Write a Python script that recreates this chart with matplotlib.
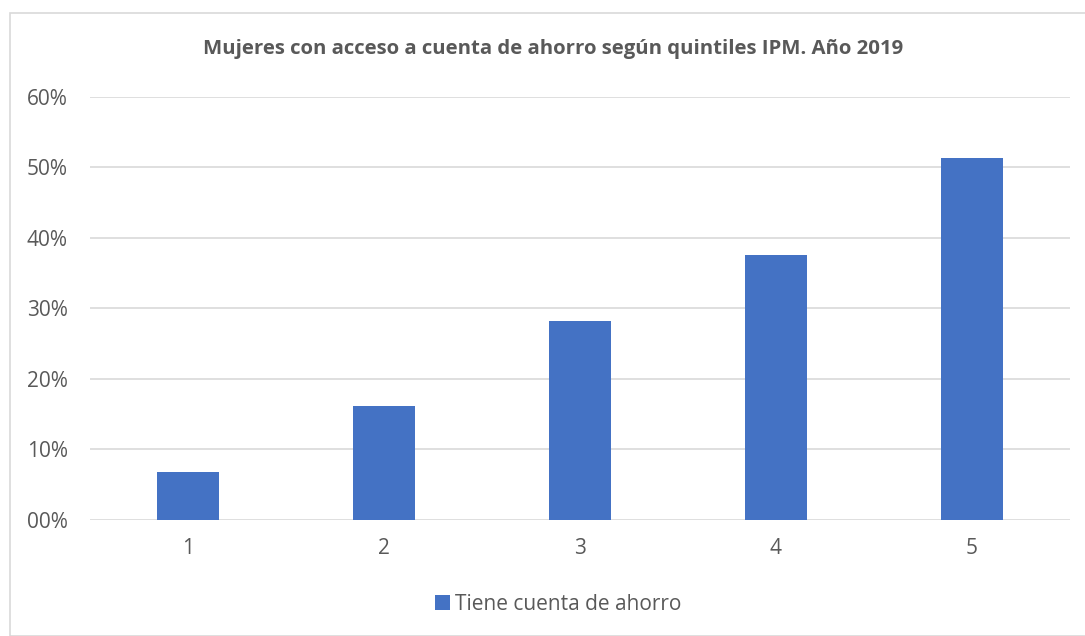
import numpy as np
import matplotlib
matplotlib.use("Agg")
import matplotlib.pyplot as plt
from matplotlib.patches import Rectangle
from matplotlib.ticker import FuncFormatter

quintiles = ["1", "2", "3", "4", "5"]
valores = [6.8, 16.2, 28.2, 37.6, 51.3]
serie = "Tiene cuenta de ahorro"
titulo = "Mujeres con acceso a cuenta de ahorro según quintiles IPM. Año 2019"

GRIS = "#595959"
AZUL = "#4472C4"

plt.rcParams["font.family"] = ["Open Sans", "DejaVu Sans"]

fig = plt.figure(figsize=(10.85, 6.36), dpi=100)
# marco del gráfico
fig.patches.append(Rectangle((10 / 1085, 0), 1.0, 1 - 13 / 636, transform=fig.transFigure,
                             fill=False, edgecolor="#d9d9d9", lw=1.2))

ax = fig.add_axes([90 / 1085, 116.3 / 636, 980 / 1085, 0.6646])
x = np.arange(len(quintiles))
ax.bar(x, valores, width=0.316, color=AZUL, label=serie, zorder=3)

ax.set_xlim(-0.5, len(quintiles) - 0.5)
ax.set_ylim(0, 60)
ax.set_yticks(np.arange(0, 61, 10))
ax.yaxis.set_major_formatter(FuncFormatter(lambda v, p: f"{int(v):02d}%"))
ax.set_xticks(x)
ax.set_xticklabels(quintiles)
ax.grid(axis="y", color="#d9d9d9", lw=1.2, zorder=0)
for s in ax.spines.values():
    s.set_visible(False)
ax.tick_params(length=0, labelsize=15, colors=GRIS)
ax.tick_params(axis="x", pad=13)
ax.tick_params(axis="y", pad=16)

fig.text(553 / 1085, 1 - 49 / 636, titulo, ha="center", va="center",
         fontsize=14.7, fontweight="bold", color=GRIS)

fig.legend(loc="center", bbox_to_anchor=(558 / 1085, 1 - 604 / 636), frameon=False,
           fontsize=15, labelcolor=GRIS, handlelength=0.7, handleheight=0.7,
           handletextpad=0.25)

fig.savefig("out.png", dpi=100)
